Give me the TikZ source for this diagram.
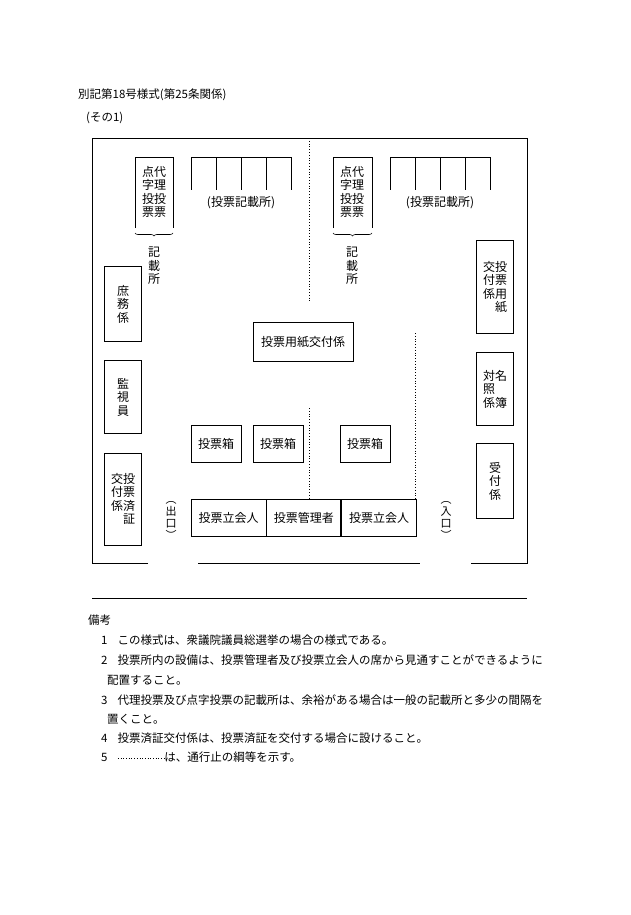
\documentclass[tikz,border=0pt]{standalone}
\usepackage{fontspec}
\setmainfont{Noto Sans CJK JP}
\usetikzlibrary{decorations.pathreplacing}
\tikzset{
  box/.style={draw, line width=0.8pt, inner sep=0pt, align=center},
  wall/.style={line width=0.8pt},
  rope/.style={line width=0.8pt, dotted},
  note/.style={anchor=west, inner sep=0pt, font=\fontsize{11.5}{13}\selectfont}
}
\begin{document}
\begin{tikzpicture}[x=1pt, y=-1pt, font=\fontsize{12}{13.5}\selectfont]
\useasboundingbox [fill=white] (0,0) rectangle (630,915);

\node [note] (title) at (78,95) {別記第18号様式(第25条関係)};
\node [note] (sono) at (86,118) {(その1)};

% walls
\draw [wall] (148,563) -- (92,563) -- (92,138) -- (527,138) -- (527,563) -- (471,563);
\draw [wall] (198,563) -- (420,563);
\draw [wall] (92,598) -- (527,598);

% ropes
\draw [rope] (309,138) -- (309,302);
\draw [rope] (309,408) -- (309,499);
\draw [rope] (415,333) -- (415,499);

% left side
\node [box, minimum width=37pt, minimum height=75pt] (shomu) at (123,304) {庶\\務\\係};
\node [box, minimum width=37pt, minimum height=73pt] (kanshi) at (123,397) {監\\視\\員};
\node [box, minimum width=37pt, minimum height=92pt] (sumisho) at (123,499) {交投\\付票\\係済\\\phantom{交}証};

% special booths
\draw [wall] (135,228) -- (135,157) -- (173,157) -- (173,228);
\node [align=center] (dairiL) at (154,192) {点代\\字理\\投投\\票票};
\draw [decorate, decoration={brace, mirror, amplitude=3pt}, line width=0.6pt] (135,233) -- (173,233);
\node [align=center] (kisaiL) at (154,266) {記\\載\\所};
\draw [wall] (333,228) -- (333,157) -- (372,157) -- (372,228);
\node [align=center] (dairiR) at (352,192) {点代\\字理\\投投\\票票};
\draw [decorate, decoration={brace, mirror, amplitude=3pt}, line width=0.6pt] (333,233) -- (372,233);
\node [align=center] (kisaiR) at (352,266) {記\\載\\所};

% booths
\draw [wall] (191,157) -- (291,157);
\foreach \x in {191,216,241,266,291} \draw [wall] (\x,157) -- (\x,190);
\node (kisaijoL) at (241,203) {(投票記載所)};
\draw [wall] (390,157) -- (490,157);
\foreach \x in {390,415,440,465,490} \draw [wall] (\x,157) -- (\x,190);
\node (kisaijoR) at (440,203) {(投票記載所)};

% right side
\node [box, minimum width=37pt, minimum height=93pt] (yoshiR) at (495,287) {交投\\付票\\係用\\\phantom{交}紙};
\node [box, minimum width=37pt, minimum height=73pt] (taisho) at (495,389) {対名\\照\phantom{名}\\係簿};
\node [box, minimum width=37pt, minimum height=75pt] (uketsuke) at (495,481) {受\\付\\係};

% center
\node [box, minimum width=100pt, minimum height=39pt] (yoshiC) at (303,342) {投票用紙交付係};
\node [box, minimum width=50pt, minimum height=37pt] (hakoA) at (216,444) {投票箱};
\node [box, minimum width=50pt, minimum height=37pt] (hakoB) at (278,444) {投票箱};
\node [box, minimum width=50pt, minimum height=37pt] (hakoC) at (365,444) {投票箱};
\node [box, minimum width=75pt, minimum height=37pt] (tachiA) at (228.5,518) {投票立会人};
\node [box, minimum width=74pt, minimum height=37pt, anchor=west] (kanri) at (tachiA.east) {投票管理者};
\node [box, minimum width=75pt, minimum height=37pt, anchor=west] (tachiB) at (kanri.east) {投票立会人};

\node [align=center, font=\fontsize{11}{12}\selectfont] (deguchi) at (171,520) {︵\\出\\口\\︶};
\node [align=center, font=\fontsize{11}{12}\selectfont] (iriguchi) at (446,520) {︵\\入\\口\\︶};

% notes
\node [note] (biko) at (88,620) {備考};
\node [note] (n1) at (101,640) {1\hspace{10pt}この様式は、衆議院議員総選挙の場合の様式である。};
\node [note] (n2) at (101,660) {2\hspace{10pt}投票所内の設備は、投票管理者及び投票立会人の席から見通すことができるように};
\node [note] (n2b) at (107,680) {配置すること。};
\node [note] (n3) at (101,700) {3\hspace{10pt}代理投票及び点字投票の記載所は、余裕がある場合は一般の記載所と多少の間隔を};
\node [note] (n3b) at (107,719) {置くこと。};
\node [note] (n4) at (101,738) {4\hspace{10pt}投票済証交付係は、投票済証を交付する場合に設けること。};
\node [note] (n5) at (101,757) {5\hspace{10pt}\tikz[baseline]\draw[dotted, line width=0.7pt] (0,3pt) -- (46pt,3pt);は、通行止の綱等を示す。};
\end{tikzpicture}
\end{document}
